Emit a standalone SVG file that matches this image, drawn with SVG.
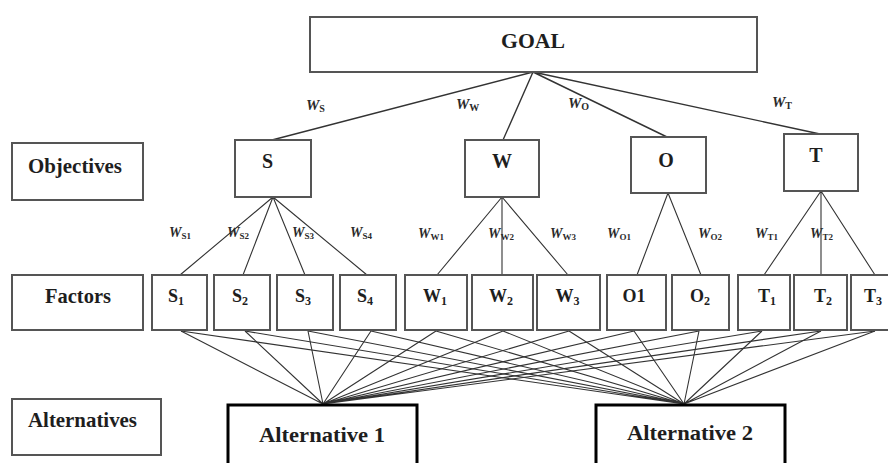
<svg xmlns="http://www.w3.org/2000/svg" width="888" height="463" viewBox="0 0 888 463">
<style>
.bx{fill:#fff;stroke:#555;stroke-width:2}
.alt{fill:#fff;stroke:#000;stroke-width:3}
.t{font-family:"Liberation Serif","Times New Roman",serif;font-weight:bold;fill:#1e1e1e}
.big{font-size:22px}
.obj{font-size:20px}
.fac{font-size:18px}
.fsub{font-size:12px}
.w1{font-family:"Liberation Serif","Times New Roman",serif;font-weight:bold;font-style:italic;font-size:15px;fill:#2a2a2a}
.w1s{font-style:normal;font-size:10px}
.w2{font-family:"Liberation Serif","Times New Roman",serif;font-weight:bold;font-style:italic;font-size:14px;fill:#2a2a2a}
.w2s{font-style:normal;font-size:9px}
.c{stroke:#333;stroke-width:1.4;fill:none}
.c2{stroke:#333;stroke-width:1.1;fill:none}
</style>
<rect width="888" height="463" fill="#fff"/>

<g id="connectors">
  <path class="c" d="M533,72 L272,140 M533,72 L503,140 M533,72 L667,137 M533,72 L820,134"/>
  <path class="c2" d="M273,197 L180,275 M273,197 L243,275 M273,197 L305,275 M273,197 L367,275"/>
  <path class="c2" d="M502,197 L437,275 M502,197 L502,275 M502,197 L568,275"/>
  <path class="c2" d="M668,193 L637,275 M668,193 L701,275"/>
  <path class="c2" d="M821,191 L764,275 M821,191 L821,275 M821,191 L875,275"/>
  <path class="c2" d="M181,331 L323,404 M245,331 L323,404 M308,331 L323,404 M371,331 L323,404 M436,331 L323,404 M503,331 L323,404 M569,331 L323,404 M634,331 L323,404 M699,331 L323,404 M762,331 L323,404 M821,331 L323,404 M875,331 L323,404"/>
  <path class="c2" d="M181,331 L684,404 M245,331 L684,404 M308,331 L684,404 M371,331 L684,404 M436,331 L684,404 M503,331 L684,404 M569,331 L684,404 M634,331 L684,404 M699,331 L684,404 M762,331 L684,404 M821,331 L684,404 M875,331 L684,404"/>
</g>

<g id="weights">
  <text class="w1" x="306" y="110">W<tspan class="w1s" dy="2">S</tspan></text>
  <text class="w1" x="456" y="108.5">W<tspan class="w1s" dy="2">W</tspan></text>
  <text class="w1" x="568" y="108">W<tspan class="w1s" dy="2">O</tspan></text>
  <text class="w1" x="772" y="107">W<tspan class="w1s" dy="2">T</tspan></text>
  <text class="w2" x="169" y="237">W<tspan class="w2s" dy="1.5">S1</tspan></text>
  <text class="w2" x="227" y="237">W<tspan class="w2s" dy="1.5">S2</tspan></text>
  <text class="w2" x="292" y="237">W<tspan class="w2s" dy="1.5">S3</tspan></text>
  <text class="w2" x="350" y="237">W<tspan class="w2s" dy="1.5">S4</tspan></text>
  <text class="w2" x="418" y="238">W<tspan class="w2s" dy="1.5">W1</tspan></text>
  <text class="w2" x="488" y="238">W<tspan class="w2s" dy="1.5">W2</tspan></text>
  <text class="w2" x="550" y="238">W<tspan class="w2s" dy="1.5">W3</tspan></text>
  <text class="w2" x="607" y="238">W<tspan class="w2s" dy="1.5">O1</tspan></text>
  <text class="w2" x="698" y="238">W<tspan class="w2s" dy="1.5">O2</tspan></text>
  <text class="w2" x="755" y="238">W<tspan class="w2s" dy="1.5">T1</tspan></text>
  <text class="w2" x="810" y="238">W<tspan class="w2s" dy="1.5">T2</tspan></text>
</g>

<g id="goal"><rect class="bx" x="310" y="17" width="447" height="55"/><text class="t big" x="533" y="47.5" text-anchor="middle" textLength="64" lengthAdjust="spacingAndGlyphs">GOAL</text></g>

<g id="label-objectives"><rect class="bx" x="12" y="143" width="131" height="57"/><text class="t big" x="75" y="173" text-anchor="middle" textLength="94" lengthAdjust="spacingAndGlyphs">Objectives</text></g>
<g id="label-factors"><rect class="bx" x="12" y="275" width="131" height="55"/><text class="t big" x="78" y="303" text-anchor="middle" textLength="66" lengthAdjust="spacingAndGlyphs">Factors</text></g>
<g id="label-alternatives"><rect class="bx" x="12" y="399" width="149" height="56"/><text class="t big" x="82.5" y="427" text-anchor="middle" textLength="109" lengthAdjust="spacingAndGlyphs">Alternatives</text></g>

<g id="obj-S"><rect class="bx" x="235" y="140" width="76" height="57"/><text class="t obj" x="267.5" y="168" text-anchor="middle">S</text></g>
<g id="obj-W"><rect class="bx" x="465" y="140" width="74" height="57"/><text class="t obj" x="502" y="168" text-anchor="middle">W</text></g>
<g id="obj-O"><rect class="bx" x="631" y="137" width="75" height="56"/><text class="t obj" x="666" y="166.5" text-anchor="middle">O</text></g>
<g id="obj-T"><rect class="bx" x="784" y="134" width="74" height="57"/><text class="t obj" x="816" y="162" text-anchor="middle">T</text></g>

<g id="fac-S1"><rect class="bx" x="152" y="275" width="55" height="55"/><text class="t fac" x="176" y="301.5" text-anchor="middle">S<tspan class="fsub" dy="3">1</tspan></text></g>
<g id="fac-S2"><rect class="bx" x="214" y="275" width="56" height="55"/><text class="t fac" x="240" y="301.5" text-anchor="middle">S<tspan class="fsub" dy="3">2</tspan></text></g>
<g id="fac-S3"><rect class="bx" x="277" y="275" width="56" height="55"/><text class="t fac" x="303" y="301.5" text-anchor="middle">S<tspan class="fsub" dy="3">3</tspan></text></g>
<g id="fac-S4"><rect class="bx" x="340" y="275" width="56" height="55"/><text class="t fac" x="365" y="301.5" text-anchor="middle">S<tspan class="fsub" dy="3">4</tspan></text></g>
<g id="fac-W1"><rect class="bx" x="405" y="275" width="62" height="55"/><text class="t fac" x="435" y="301.5" text-anchor="middle">W<tspan class="fsub" dy="3">1</tspan></text></g>
<g id="fac-W2"><rect class="bx" x="472" y="275" width="61" height="55"/><text class="t fac" x="501" y="301.5" text-anchor="middle">W<tspan class="fsub" dy="3">2</tspan></text></g>
<g id="fac-W3"><rect class="bx" x="537" y="275" width="63" height="55"/><text class="t fac" x="567.5" y="301.5" text-anchor="middle">W<tspan class="fsub" dy="3">3</tspan></text></g>
<g id="fac-O1"><rect class="bx" x="607" y="275" width="59" height="55"/><text class="t fac" x="634" y="301.5" text-anchor="middle">O1</text></g>
<g id="fac-O2"><rect class="bx" x="672" y="275" width="57" height="55"/><text class="t fac" x="700" y="301.5" text-anchor="middle">O<tspan class="fsub" dy="3">2</tspan></text></g>
<g id="fac-T1"><rect class="bx" x="738" y="275" width="52" height="55"/><text class="t fac" x="767" y="301.5" text-anchor="middle">T<tspan class="fsub" dy="3">1</tspan></text></g>
<g id="fac-T2"><rect class="bx" x="794" y="275" width="53" height="55"/><text class="t fac" x="823" y="301.5" text-anchor="middle">T<tspan class="fsub" dy="3">2</tspan></text></g>
<g id="fac-T3"><rect class="bx" x="851" y="275" width="56" height="55"/><text class="t fac" x="873" y="301.5" text-anchor="middle">T<tspan class="fsub" dy="3">3</tspan></text></g>

<g id="alt-1"><rect class="alt" x="228" y="405" width="189" height="70"/><text class="t big" x="322" y="442" text-anchor="middle" textLength="126" lengthAdjust="spacingAndGlyphs">Alternative 1</text></g>
<g id="alt-2"><rect class="alt" x="596" y="405" width="189" height="70"/><text class="t big" x="690" y="440" text-anchor="middle" textLength="126" lengthAdjust="spacingAndGlyphs">Alternative 2</text></g>
</svg>
